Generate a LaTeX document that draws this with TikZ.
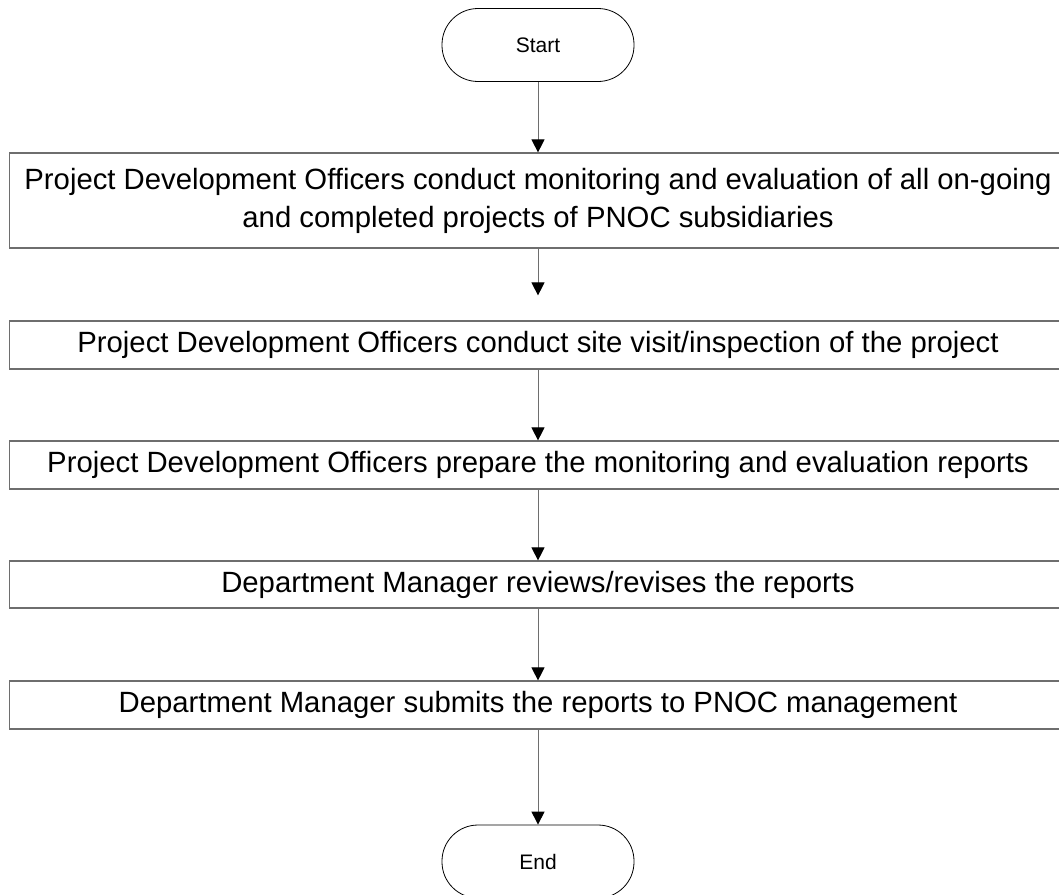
\documentclass[tikz,border=0pt]{standalone}
\usepackage{fontspec}
\setmainfont{Liberation Sans}
\usepackage{tikz}
\usepackage{xcolor}
\usetikzlibrary{positioning,arrows.meta}
\definecolor{edge}{RGB}{110,110,110}

\begin{document}
\begin{tikzpicture}[x=1pt, y=1pt,
    terminal/.style={draw=black, line width=0.8pt, rounded corners=36pt,
      minimum width=192pt, minimum height=73pt, inner sep=0pt,
      font=\fontsize{21}{25}\selectfont},
    process/.style={draw=edge, line width=1.2pt, minimum width=1057pt,
      minimum height=48pt, inner sep=0pt, align=center,
      font=\fontsize{29.3}{38}\selectfont},
    flow/.style={draw=edge, line width=1pt,
      -{Triangle[length=13pt,width=13pt,color=black]}}]
        \useasboundingbox (0,0) rectangle (1059,-894);
        % terminals
        \node[terminal] (start) at (538,-45) {Start};
        \node[terminal] (stop) at (538,-861.5) {End};
        % steps
        \node[process, minimum height=95pt] (monitor) at (538,-200.5)
              {Project Development Officers conduct monitoring and evaluation of all on-going\\
               and completed projects of PNOC subsidiaries};
        \node[process] (visit) at (538,-345)
              {Project Development Officers conduct site visit/inspection of the project};
        \node[process] (prepare) at (538,-465)
              {Project Development Officers prepare the monitoring and evaluation reports};
        \node[process, minimum height=47pt] (review) at (538,-584.5)
              {Department Manager reviews/revises the reports};
        \node[process] (submit) at (538,-705)
              {Department Manager submits the reports to PNOC management};
        % arrows
        \draw[flow] (start) -- (monitor);
        \draw[flow, shorten >=25pt] (monitor) -- (visit);
        \draw[flow] (visit) -- (prepare);
        \draw[flow] (prepare) -- (review);
        \draw[flow] (review) -- (submit);
        \draw[flow] (submit) -- (stop);
      \end{tikzpicture}
\end{document}
